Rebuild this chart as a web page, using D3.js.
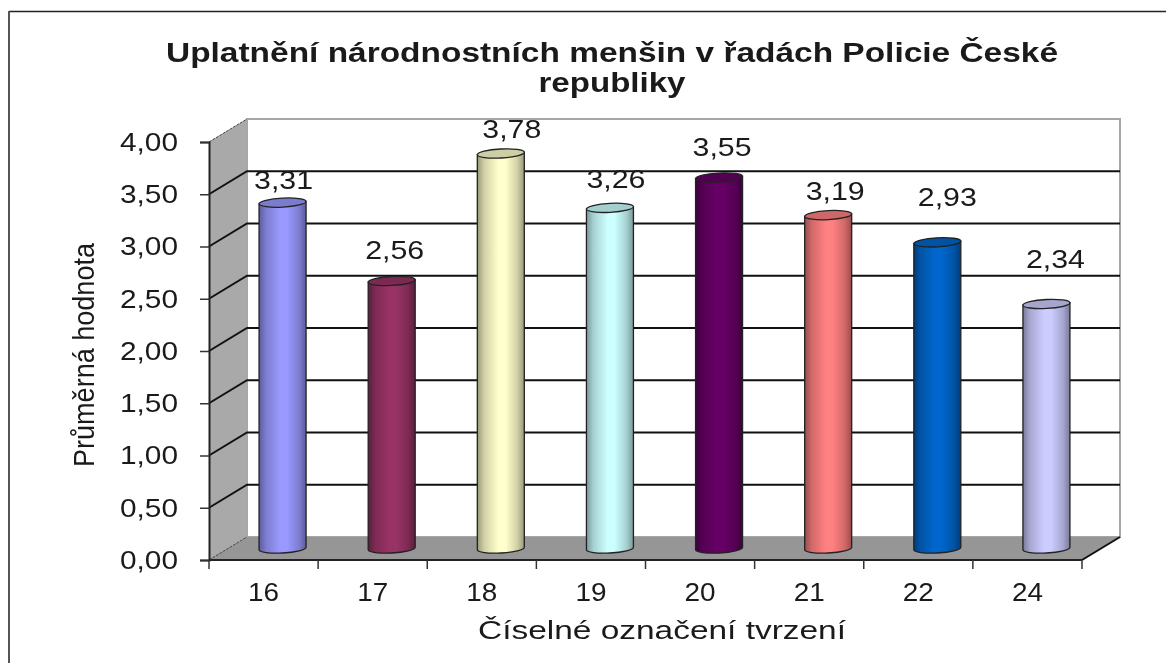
<!DOCTYPE html>
<html>
<head>
<meta charset="utf-8">
<script src="https://d3js.org/d3.v7.min.js"></script>
<style>
    html, body { margin: 0; padding: 0; background: #fff; overflow: hidden; }
    svg { display: block; filter: blur(0.45px); }
    text { font-family: "Liberation Sans", Arial, sans-serif; fill: #1a1a1a; }
</style>
</head>
<body>
<svg width="1166" height="663"></svg>
<script>
var categories = ["16", "17", "18", "19", "20", "21", "22", "24"];
var values = [3.31, 2.56, 3.78, 3.26, 3.55, 3.19, 2.93, 2.34];
var barColors = ["#9999ff", "#993366", "#ffffcc", "#ccffff", "#660066", "#ff8080", "#0066cc", "#ccccff"];
var yTicks = [0, 0.5, 1, 1.5, 2, 2.5, 3, 3.5, 4];
var titleLines = ["Uplatnění národnostních menšin v řadách Policie České", "republiky"];
var xTitle = "Číselné označení tvrzení";
var yTitle = "Průměrná hodnota";

// the labels sit unevenly in the original, so nudge each one by hand
var labelLift = [13.6, 22, 15, 20, 22, 15, 36, 36];
var labelShift = [1, 3, 11, 6, 3, 7, 10, 9];

var svg = d3.select("svg");

var plotLeft = 209, plotRight = 1082, plotTop = 142, plotBottom = 560;
var depthX = 38, depthY = 23;

var x = d3.scaleBand().domain(categories).range([plotLeft, plotRight]);
var y = d3.scaleLinear().domain([0, 4]).range([plotBottom, plotTop]);

var fmt = function(d) { return d3.format(".2f")(d).replace(".", ","); };

// frame, only top and left are visible
svg.append("line").attr("x1", 9).attr("x2", 1166).attr("y1", 11.5).attr("y2", 11.5)
    .attr("stroke", "#222").attr("stroke-width", 1.5);
svg.append("line").attr("x1", 9).attr("x2", 9).attr("y1", 11).attr("y2", 663)
    .attr("stroke", "#555").attr("stroke-width", 2);

// title, the original is stretched sideways so force the widths
var titleWidths = [892, 147];
svg.selectAll(".title")
    .data(titleLines)
    .enter().append("text")
    .attr("class", "title")
    .attr("x", 612)
    .attr("y", function(d, i) { return 62 + i * 30; })
    .attr("text-anchor", "middle")
    .attr("textLength", function(d, i) { return titleWidths[i]; })
    .attr("lengthAdjust", "spacingAndGlyphs")
    .style("font-weight", "bold")
    .style("font-size", "27px")
    .text(function(d) { return d; });

// walls and floor
var g = svg.append("g");
var wallTop = y(4) - depthY, wallBottom = y(0) - depthY;

g.append("path") // back wall
    .attr("d", d3.line()([[plotLeft + depthX, wallTop], [plotRight + depthX, wallTop], [plotRight + depthX, wallBottom], [plotLeft + depthX, wallBottom]]) + "Z")
    .attr("fill", "#fff").attr("stroke", "#a6a6a6").attr("stroke-width", 2);
g.append("path") // side wall
    .attr("d", d3.line()([[plotLeft, y(4)], [plotLeft + depthX, wallTop], [plotLeft + depthX, wallBottom], [plotLeft, y(0)]]) + "Z")
    .attr("fill", "#a9a9a9");
g.append("path") // floor
    .attr("d", d3.line()([[plotLeft, y(0)], [plotLeft + depthX, wallBottom], [plotRight + depthX, wallBottom], [plotRight, y(0)]]) + "Z")
    .attr("fill", "#969696");

// gridlines, bent round the side wall
g.selectAll(".grid")
    .data(yTicks.slice(1, -1))
    .enter().append("path")
    .attr("class", "grid")
    .attr("d", function(d) {
        return d3.line()([[plotLeft, y(d)], [plotLeft + depthX, y(d) - depthY], [plotRight + depthX, y(d) - depthY]]);
    })
    .attr("fill", "none").attr("stroke", "#111").attr("stroke-width", 2);

g.append("line") // wall top edge
    .attr("x1", plotLeft).attr("y1", y(4)).attr("x2", plotLeft + depthX).attr("y2", wallTop)
    .attr("stroke", "#444").attr("stroke-width", 1).attr("stroke-dasharray", "3,1");
g.append("line") // wall bottom edge
    .attr("x1", plotLeft).attr("y1", y(0)).attr("x2", plotLeft + depthX).attr("y2", wallBottom)
    .attr("stroke", "#444").attr("stroke-width", 1).attr("stroke-dasharray", "3,1");
g.append("line") // right floor edge
    .attr("x1", plotRight).attr("y1", y(0)).attr("x2", plotRight + depthX).attr("y2", wallBottom)
    .attr("stroke", "#111").attr("stroke-width", 2);

// axes
var yAxis = d3.axisLeft(y).tickValues(yTicks).tickFormat(fmt).tickSize(9).tickPadding(22);
var yG = svg.append("g").attr("transform", "translate(" + plotLeft + ",0)").call(yAxis);
yG.select(".domain").attr("stroke", "#222").attr("stroke-width", 2);
yG.selectAll(".tick line").attr("stroke", "#333").attr("stroke-width", 1.5);
yG.selectAll("text")
    .attr("textLength", 58).attr("lengthAdjust", "spacingAndGlyphs")
    .style("font-size", "26px");

var xAxis = d3.axisBottom(x).tickSize(0).tickPadding(23);
var xG = svg.append("g").attr("transform", "translate(0," + plotBottom + ")").call(xAxis);
xG.select(".domain").attr("stroke", "#222").attr("stroke-width", 2)
    .attr("d", "M" + plotLeft + ",0H" + plotRight);
xG.selectAll("text")
    .attr("textLength", 31).attr("lengthAdjust", "spacingAndGlyphs")
    .style("font-size", "26px");

// tick marks fall between the bars, not under them
xG.selectAll(".edge")
    .data(categories.concat(["end"]))
    .enter().append("line")
    .attr("class", "edge")
    .attr("x1", function(d, i) { return plotLeft + i * x.step(); })
    .attr("x2", function(d, i) { return plotLeft + i * x.step(); })
    .attr("y1", 0).attr("y2", 9)
    .attr("stroke", "#333").attr("stroke-width", 1.5);

// axis titles
svg.append("text")
    .attr("x", 662).attr("y", 639)
    .attr("text-anchor", "middle")
    .attr("textLength", 368).attr("lengthAdjust", "spacingAndGlyphs")
    .style("font-size", "26px")
    .text(xTitle);
svg.append("text")
    .attr("transform", "translate(94,355) rotate(-90)")
    .attr("text-anchor", "middle")
    .attr("textLength", 224).attr("lengthAdjust", "spacingAndGlyphs")
    .style("font-size", "29px")
    .text(yTitle);

// cylinders
var defs = svg.append("defs");
barColors.forEach(function(c, i) {
    var grad = defs.append("linearGradient").attr("id", "bar" + i);
    var stops = [[0, 0.6], [0.15, 0.82], [0.45, 1], [0.6, 1], [0.85, 0.82], [1, 0.6]];
    stops.forEach(function(s) {
        var col = d3.rgb(c);
        grad.append("stop")
            .attr("offset", s[0])
            .attr("stop-color", d3.rgb(col.r * s[1], col.g * s[1], col.b * s[1]));
    });
});

var rx = 23.5, ry = 4.5, tilt = 1.2;
var barCenter = function(d) { return x(d) + x.bandwidth() / 2 + depthX / 2; };
var barY = function(v) { return y(v) - depthY / 2; };

var bars = svg.selectAll(".bar")
    .data(categories)
    .enter().append("g")
    .attr("class", "bar");

bars.append("path")
    .attr("d", function(d, i) {
        var cx = barCenter(d), t = barY(values[i]), b = barY(0);
        return "M" + (cx - rx) + "," + (t + tilt) +
            "L" + (cx - rx) + "," + (b + tilt) +
            "A" + rx + "," + ry + " -3 0 0 " + (cx + rx) + "," + (b - tilt) +
            "L" + (cx + rx) + "," + (t - tilt) + "Z";
    })
    .attr("fill", function(d, i) { return "url(#bar" + i + ")"; })
    .attr("stroke", "#222").attr("stroke-width", 1.3);

bars.append("ellipse")
    .attr("cx", barCenter)
    .attr("cy", function(d, i) { return barY(values[i]); })
    .attr("rx", rx).attr("ry", ry)
    .attr("transform", function(d, i) { return "rotate(-3 " + barCenter(d) + " " + barY(values[i]) + ")"; })
    .attr("fill", function(d, i) { return d3.rgb(barColors[i]).darker(0.6); })
    .attr("stroke", "#222").attr("stroke-width", 1.3);

// value labels
svg.selectAll(".label")
    .data(categories)
    .enter().append("text")
    .attr("class", "label")
    .attr("x", function(d, i) { return barCenter(d) + labelShift[i]; })
    .attr("y", function(d, i) { return barY(values[i]) - labelLift[i]; })
    .attr("text-anchor", "middle")
    .attr("textLength", 59).attr("lengthAdjust", "spacingAndGlyphs")
    .style("font-size", "26px")
    .text(function(d, i) { return fmt(values[i]); });
</script>
</body>
</html>
